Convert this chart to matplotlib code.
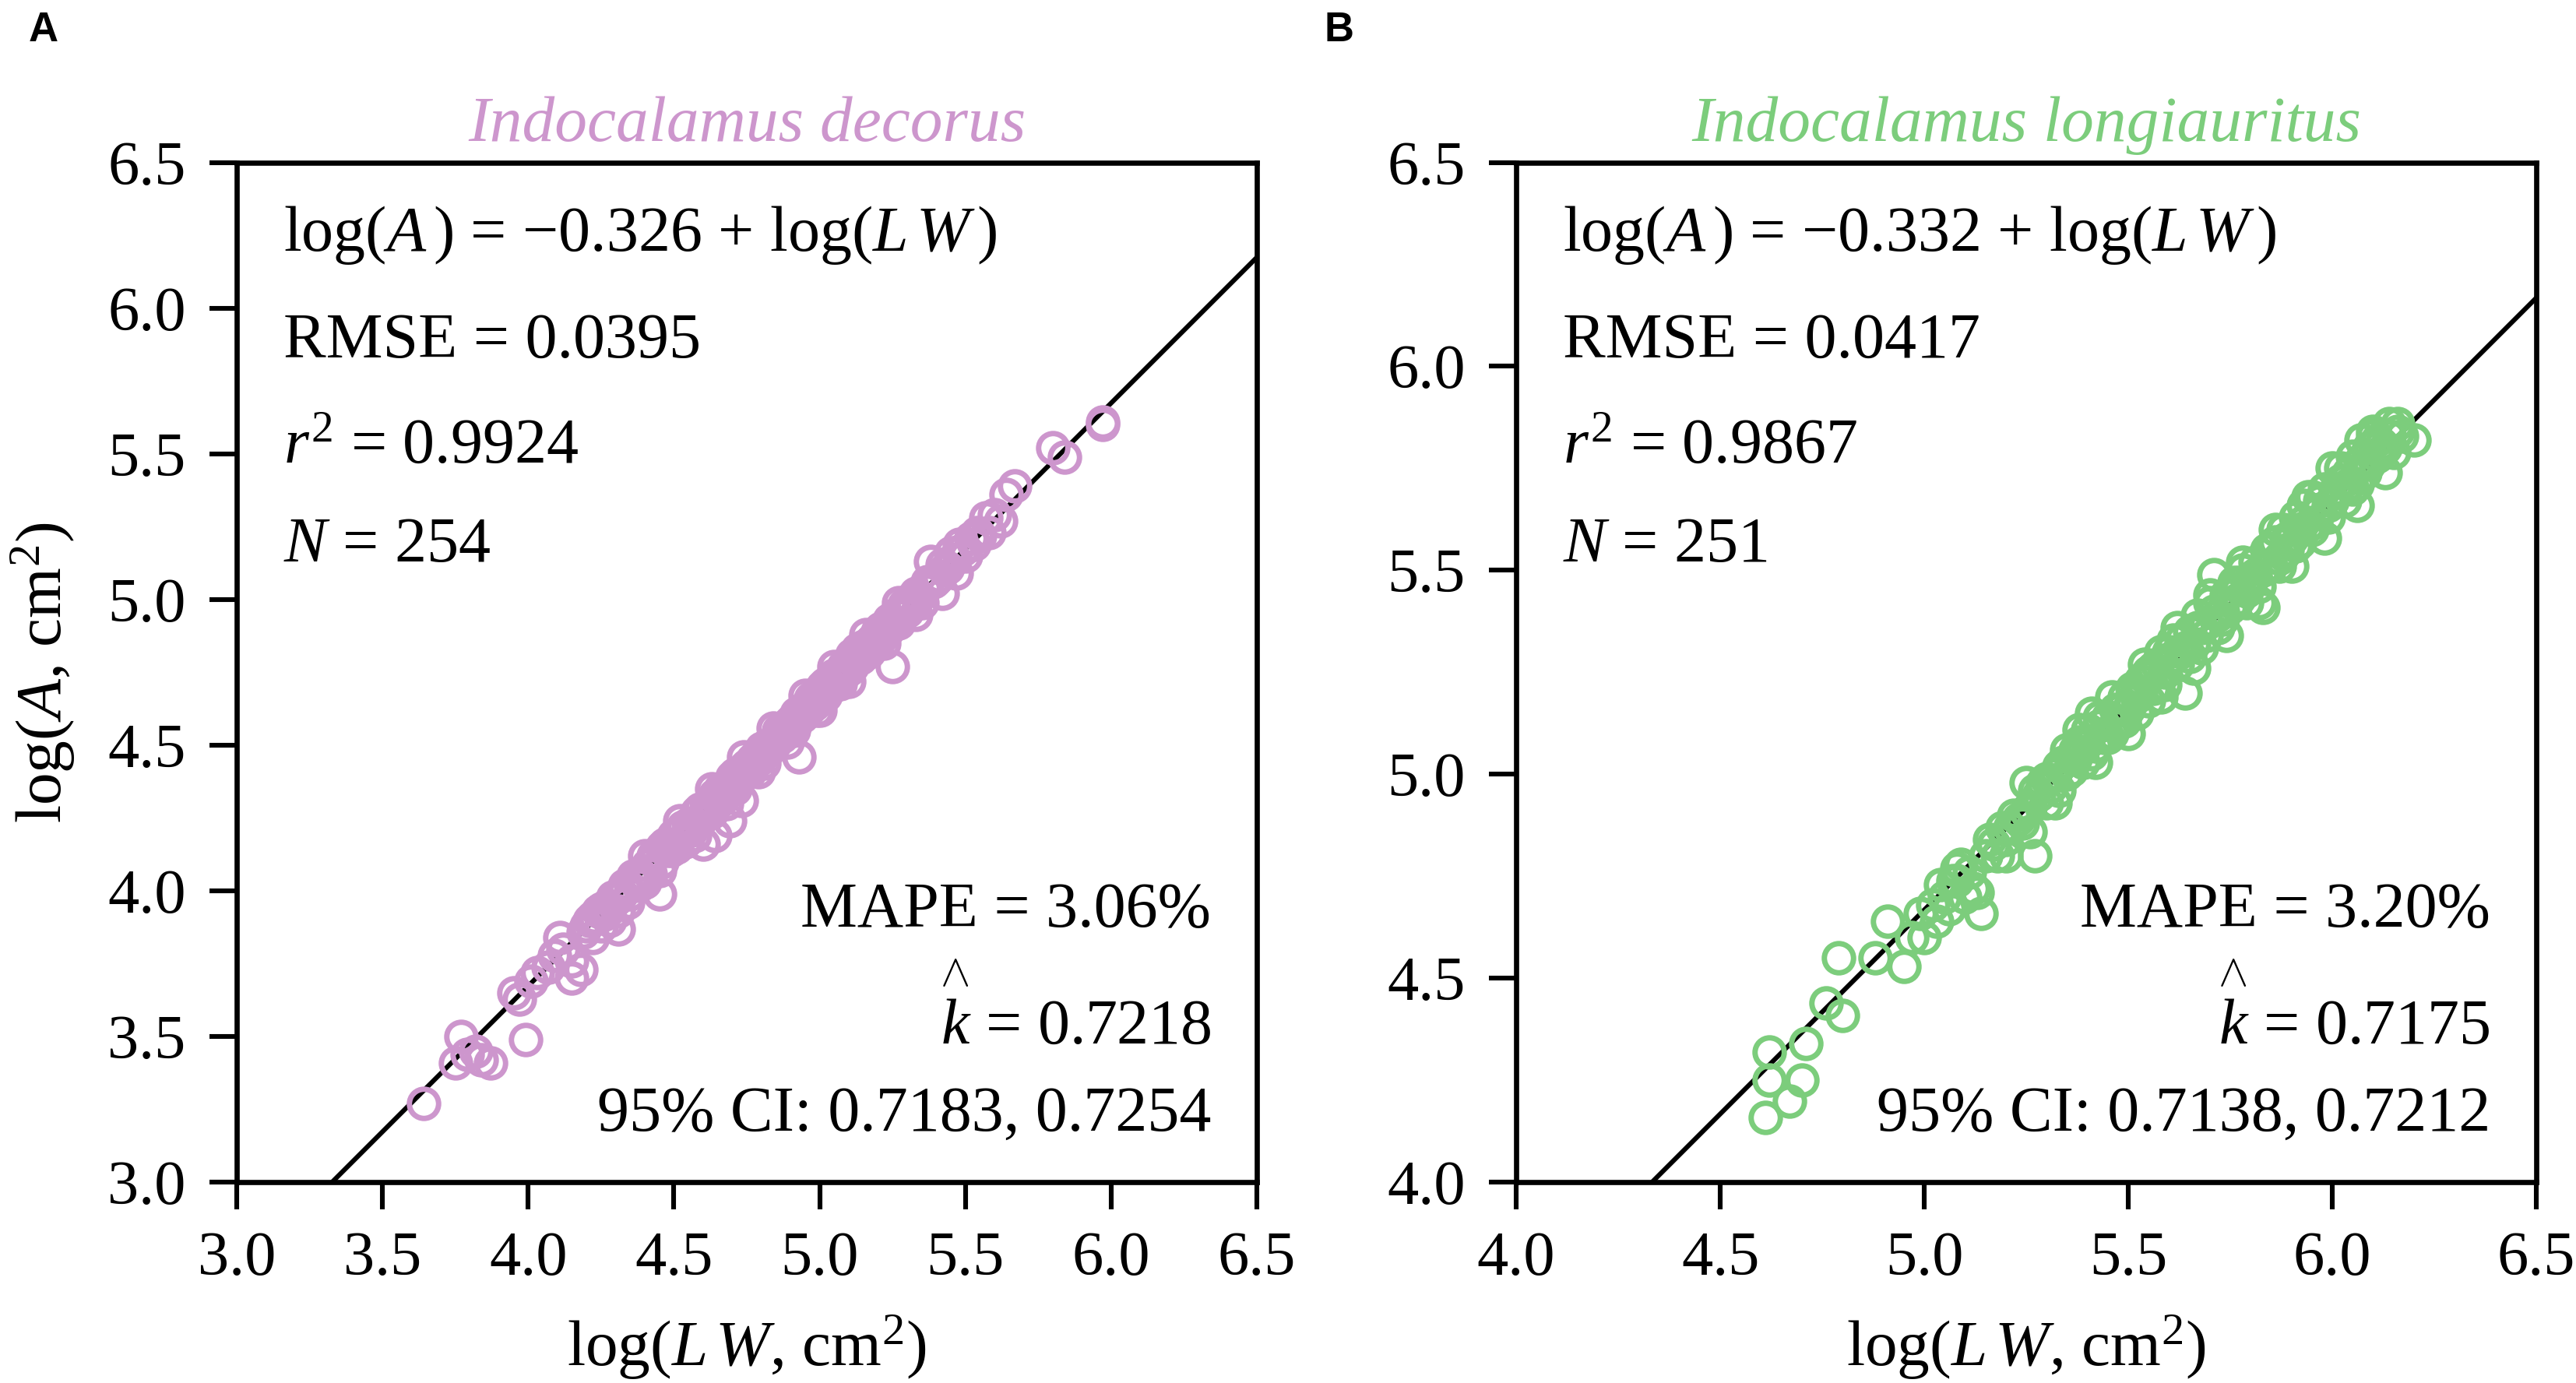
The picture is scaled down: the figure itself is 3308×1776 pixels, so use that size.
import numpy as np
import matplotlib
matplotlib.use("Agg")
import matplotlib.pyplot as plt

plt.rcParams['font.family'] = ['Liberation Serif', 'DejaVu Serif']
plt.rcParams['mathtext.fontset'] = 'custom'
plt.rcParams['mathtext.rm'] = 'Liberation Serif'
plt.rcParams['mathtext.it'] = 'Liberation Serif:italic'
plt.rcParams['mathtext.bf'] = 'Liberation Serif:bold'

# panel A: Indocalamus decorus  (log(LW), log(A))
decorus_lw = [3.64, 3.75, 3.77, 3.79, 3.82, 3.84, 3.87, 3.95, 3.97, 3.99,
              4.01, 4.03, 4.07, 4.09, 4.11, 4.12, 4.15, 4.15, 4.18, 4.19,
              4.21, 4.22, 4.24, 4.25, 4.27, 4.28, 4.30, 4.31, 4.31, 4.33,
              4.34, 4.35, 4.37, 4.38, 4.40, 4.41, 4.42, 4.44, 4.45, 4.46,
              4.47, 4.49, 4.50, 4.51, 4.52, 4.54, 4.55, 4.56, 4.58, 4.59,
              4.60, 4.61, 4.62, 4.63, 4.64, 4.65, 4.66, 4.67, 4.68, 4.69,
              4.70, 4.71, 4.72, 4.73, 4.75, 4.76, 4.77, 4.78, 4.80, 4.81,
              4.82, 4.83, 4.85, 4.86, 4.87, 4.88, 4.90, 4.91, 4.92, 4.93,
              4.94, 4.95, 4.97, 4.98, 4.99, 5.00, 5.01, 5.02, 5.03, 5.05,
              5.06, 5.07, 5.08, 5.09, 5.10, 5.11, 5.12, 5.13, 5.14, 5.15,
              5.17, 5.18, 5.19, 5.20, 5.21, 5.23, 5.24, 5.25, 5.26, 5.27,
              5.29, 5.30, 5.31, 5.33, 5.35, 5.36, 5.38, 5.40, 5.42, 5.43,
              5.45, 5.48, 5.50, 5.52, 5.54, 5.57, 5.58, 5.62, 5.64, 5.67,
              5.80, 5.84, 5.97, 5.97,
              4.20, 4.23, 4.26, 4.29, 4.32, 4.36, 4.39, 4.43, 4.48, 4.53,
              4.57, 4.61, 4.64, 4.66, 4.69, 4.71, 4.74, 4.76, 4.79, 4.81,
              4.84, 4.86, 4.89, 4.91, 4.94, 4.96, 4.98, 5.00, 5.02, 5.04,
              5.06, 5.08, 5.10, 5.12, 5.14, 5.16, 5.18, 5.21, 5.24, 5.28,
              5.32, 5.37, 5.41, 5.46, 5.53, 5.60,
              4.22, 4.25, 4.28, 4.33, 4.37, 4.41, 4.46, 4.50, 4.55, 4.59,
              4.62, 4.65, 4.67, 4.70, 4.72, 4.75, 4.77, 4.80, 4.82, 4.85,
              4.87, 4.90, 4.92, 4.95, 4.97, 4.99, 5.01, 5.03, 5.05, 5.07,
              5.09, 5.11, 5.13, 5.15, 5.17, 5.19, 5.22, 5.26, 5.30, 5.34,
              5.39, 5.44, 5.49, 5.55,
              4.40, 4.45, 4.52, 4.57, 4.63, 4.68, 4.74, 4.79, 4.84, 4.89,
              4.95, 5.00, 5.05, 5.10, 5.16, 5.22, 5.27, 5.33, 5.42, 5.47]
decorus_a = [3.27, 3.41, 3.50, 3.44, 3.45, 3.42, 3.41, 3.65, 3.63, 3.49,
             3.69, 3.72, 3.74, 3.78, 3.84, 3.80, 3.76, 3.70, 3.73, 3.86,
             3.90, 3.84, 3.93, 3.88, 3.95, 3.90, 3.97, 3.93, 3.87, 4.01,
             3.96, 3.99, 4.04, 4.02, 4.03, 4.09, 4.06, 4.13, 3.99, 4.10,
             4.16, 4.14, 4.19, 4.15, 4.20, 4.17, 4.23, 4.21, 4.27, 4.24,
             4.16, 4.29, 4.30, 4.27, 4.19, 4.33, 4.31, 4.34, 4.36, 4.24,
             4.38, 4.35, 4.40, 4.31, 4.43, 4.41, 4.45, 4.46, 4.47, 4.44,
             4.50, 4.49, 4.52, 4.55, 4.53, 4.56, 4.58, 4.55, 4.61, 4.46,
             4.60, 4.63, 4.64, 4.66, 4.62, 4.68, 4.70, 4.67, 4.71, 4.72,
             4.74, 4.71, 4.77, 4.75, 4.78, 4.81, 4.79, 4.83, 4.80, 4.84,
             4.82, 4.86, 4.85, 4.89, 4.87, 4.90, 4.93, 4.77, 4.95, 4.92,
             4.98, 4.96, 5.00, 5.02, 4.99, 5.04, 5.13, 5.07, 5.02, 5.10,
             5.16, 5.19, 5.15, 5.21, 5.23, 5.28, 5.23, 5.27, 5.36, 5.39,
             5.52, 5.49, 5.61, 5.60,
             3.88, 3.91, 3.92, 3.98, 3.99, 4.05, 4.05, 4.12, 4.14, 4.22,
             4.23, 4.27, 4.33, 4.35, 4.35, 4.40, 4.42, 4.44, 4.45, 4.49,
             4.50, 4.53, 4.57, 4.59, 4.62, 4.62, 4.64, 4.66, 4.71, 4.70,
             4.72, 4.76, 4.76, 4.80, 4.83, 4.82, 4.84, 4.90, 4.90, 4.96,
             4.98, 5.06, 5.08, 5.14, 5.19, 5.29,
             3.91, 3.94, 3.94, 4.02, 4.03, 4.07, 4.15, 4.16, 4.21, 4.28,
             4.28, 4.31, 4.33, 4.39, 4.38, 4.41, 4.43, 4.49, 4.48, 4.51,
             4.56, 4.56, 4.58, 4.61, 4.66, 4.65, 4.67, 4.69, 4.74, 4.73,
             4.76, 4.77, 4.81, 4.81, 4.85, 4.87, 4.88, 4.92, 4.99, 5.01,
             5.06, 5.11, 5.17, 5.22,
             4.12, 4.07, 4.24, 4.19, 4.35, 4.30, 4.46, 4.41, 4.56, 4.51,
             4.67, 4.62, 4.77, 4.72, 4.88, 4.85, 4.99, 4.95, 5.12, 5.09]

# panel B: Indocalamus longiauritus
longi_lw = [4.61, 4.62, 4.62, 4.67, 4.70, 4.71, 4.76, 4.79, 4.80, 4.88,
            4.91, 4.95, 4.97, 4.99, 5.00, 5.02, 5.03, 5.05, 5.06, 5.07,
            5.08, 5.09, 5.10, 5.12, 5.13, 5.14, 5.16, 5.18, 5.20, 5.21,
            5.23, 5.25, 5.26, 5.27, 5.28, 5.29, 5.30, 5.32, 5.33, 5.34,
            5.35, 5.36, 5.37, 5.38, 5.39, 5.40, 5.41, 5.42, 5.43, 5.44,
            5.45, 5.46, 5.47, 5.48, 5.49, 5.50, 5.51, 5.52, 5.53, 5.54,
            5.55, 5.56, 5.57, 5.58, 5.59, 5.60, 5.61, 5.62, 5.63, 5.64,
            5.65, 5.66, 5.67, 5.68, 5.69, 5.70, 5.71, 5.72, 5.73, 5.74,
            5.75, 5.76, 5.77, 5.78, 5.79, 5.80, 5.81, 5.82, 5.83, 5.84,
            5.85, 5.86, 5.87, 5.88, 5.89, 5.90, 5.91, 5.92, 5.93, 5.94,
            5.95, 5.96, 5.97, 5.98, 5.99, 6.00, 6.01, 6.02, 6.03, 6.04,
            6.05, 6.06, 6.07, 6.08, 6.09, 6.10, 6.11, 6.12, 6.14, 6.15,
            6.17, 6.20,
            5.04, 5.08, 5.11, 5.15, 5.19, 5.22, 5.24, 5.27, 5.31, 5.33,
            5.35, 5.37, 5.39, 5.41, 5.43, 5.45, 5.47, 5.49, 5.51, 5.53,
            5.55, 5.57, 5.59, 5.61, 5.63, 5.65, 5.67, 5.69, 5.71, 5.73,
            5.75, 5.77, 5.79, 5.81, 5.83, 5.85, 5.87, 5.89, 5.91, 5.93,
            5.95, 5.97, 5.99, 6.01, 6.03, 6.05, 6.07, 6.09, 6.11, 6.13,
            6.16,
            5.17, 5.26, 5.30, 5.36, 5.40, 5.44, 5.48, 5.52, 5.56, 5.60,
            5.64, 5.68, 5.72, 5.76, 5.80, 5.84, 5.88, 5.92, 5.96, 6.00,
            6.04, 6.08, 6.12, 6.14,
            5.20, 5.25, 5.32, 5.38, 5.42, 5.46, 5.50, 5.54, 5.58, 5.62,
            5.66, 5.70, 5.74, 5.78, 5.82, 5.86, 5.90, 5.94, 5.98, 6.02,
            6.06, 6.10, 6.13, 6.16]
longi_a = [4.16, 4.25, 4.32, 4.20, 4.25, 4.34, 4.44, 4.55, 4.41, 4.55,
           4.64, 4.53, 4.60, 4.66, 4.60, 4.68, 4.64, 4.70, 4.67, 4.74,
           4.74, 4.78, 4.70, 4.72, 4.71, 4.66, 4.84, 4.80, 4.84, 4.87,
           4.89, 4.91, 4.86, 4.80, 4.95, 4.98, 4.93, 5.00, 4.96, 5.03,
           5.06, 5.01, 5.04, 5.08, 5.03, 5.11, 5.15, 5.07, 5.12, 5.09,
           5.14, 5.10, 5.16, 5.13, 5.19, 5.16, 5.21, 5.15, 5.20, 5.24,
           5.18, 5.26, 5.22, 5.30, 5.25, 5.28, 5.33, 5.27, 5.30, 5.20,
           5.35, 5.32, 5.39, 5.31, 5.37, 5.42, 5.49, 5.36, 5.40, 5.44,
           5.41, 5.47, 5.43, 5.50, 5.45, 5.48, 5.52, 5.46, 5.41, 5.55,
           5.51, 5.57, 5.53, 5.60, 5.55, 5.58, 5.63, 5.57, 5.66, 5.61,
           5.68, 5.62, 5.65, 5.70, 5.66, 5.75, 5.69, 5.72, 5.67, 5.74,
           5.78, 5.71, 5.82, 5.76, 5.80, 5.84, 5.78, 5.81, 5.86, 5.79,
           5.83, 5.82,
           4.73, 4.77, 4.76, 4.80, 4.87, 4.90, 4.88, 4.96, 4.97, 5.02,
           5.00, 5.06, 5.07, 5.05, 5.14, 5.09, 5.12, 5.13, 5.18, 5.23,
           5.25, 5.27, 5.22, 5.29, 5.33, 5.29, 5.36, 5.34, 5.40, 5.38,
           5.45, 5.47, 5.42, 5.49, 5.50, 5.55, 5.51, 5.58, 5.56, 5.62,
           5.60, 5.67, 5.63, 5.70, 5.72, 5.70, 5.77, 5.76, 5.82, 5.80,
           5.84,
           4.83, 4.92, 4.99, 5.04, 5.08, 5.10, 5.16, 5.19, 5.21, 5.30,
           5.31, 5.36, 5.39, 5.42, 5.47, 5.51, 5.54, 5.60, 5.64, 5.67,
           5.71, 5.74, 5.79, 5.83,
           4.80, 4.98, 4.93, 5.11, 5.03, 5.19, 5.10, 5.27, 5.19, 5.36,
           5.26, 5.44, 5.34, 5.52, 5.42, 5.60, 5.51, 5.68, 5.58, 5.75,
           5.66, 5.83, 5.74, 5.86]

species = ['Indocalamus decorus', 'Indocalamus longiauritus']
colors = ['#CD96CD', '#7CCD7C']
intercepts = [-0.326, -0.332]
rmse = ['0.0395', '0.0417']
r2 = ['0.9924', '0.9867']
n_obs = ['254', '251']
mape = ['3.06%', '3.20%']
khat = ['0.7218', '0.7175']
ci = ['0.7183, 0.7254', '0.7138, 0.7212']
lims = [(3.0, 6.5), (4.0, 6.5)]
panel = ['A', 'B']

fig = plt.figure(figsize=(16.54, 8.88), dpi=200)
lefts = [0.0919, 0.5886]

for i in range(2):
    ax = fig.add_axes([lefts[i], 0.145, 0.396, 0.7376])
    lo, hi = lims[i]
    xs = np.array([lo, hi])
    ax.plot(xs, xs + intercepts[i], color='black', lw=2.2, zorder=1)
    xd = decorus_lw if i == 0 else longi_lw
    yd = decorus_a if i == 0 else longi_a
    ax.plot(xd, yd, 'o', mfc='none', mec=colors[i], ms=13.5, mew=2.5, zorder=2)

    ax.set_xlim(lo, hi)
    ax.set_ylim(lo, hi)
    ticks = np.arange(lo, hi + 0.01, 0.5)
    ax.set_xticks(ticks)
    ax.set_yticks(ticks)
    ax.set_xticklabels(['%.1f' % t for t in ticks])
    ax.set_yticklabels(['%.1f' % t for t in ticks])
    ax.tick_params(direction='out', length=12.5, width=2.2, labelsize=29)
    ax.tick_params(axis='x', pad=10)
    ax.tick_params(axis='y', pad=11)
    for s in ax.spines.values():
        s.set_linewidth(2.4)

    ax.set_title(species[i], style='italic', color=colors[i], fontsize=30, pad=10)
    ax.set_xlabel(r'log($L\,W$, cm$^2$)', fontsize=30, labelpad=12)
    if i == 0:
        ax.set_ylabel(r'log($A$, cm$^2$)', fontsize=30, labelpad=14)

    kw = dict(transform=ax.transAxes, fontsize=29.5, va='center')
    ax.text(0.046, 0.929, r'log($A\,$) = −%.3f + log($L\,W\,$)' % abs(intercepts[i]), ha='left', **kw)
    ax.text(0.046, 0.824, 'RMSE = ' + rmse[i], ha='left', **kw)
    ax.text(0.046, 0.721, r'$r^2$ = ' + r2[i], ha='left', **kw)
    ax.text(0.046, 0.624, r'$N$ = ' + n_obs[i], ha='left', **kw)
    ax.text(0.955, 0.266, 'MAPE = ' + mape[i], ha='right', **kw)
    ax.text(0.955, 0.166, r'$\overset{\wedge}{k}$ = ' + khat[i], ha='right', **kw)
    ax.text(0.955, 0.066, '95% CI: ' + ci[i], ha='right', **kw)

    fig.text([0.0112, 0.514][i], 0.978, panel[i], family='Liberation Sans',
             weight='bold', fontsize=19, va='center', ha='left')

fig.savefig('out.png', dpi=200)
